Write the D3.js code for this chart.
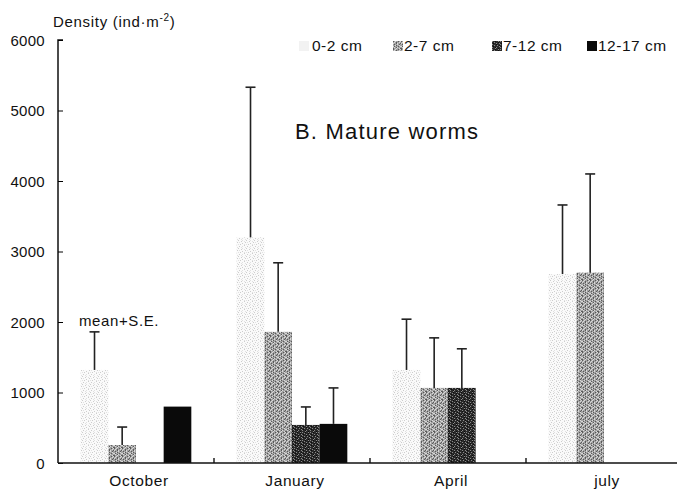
<!DOCTYPE html>
<html>
<head>
<meta charset="utf-8">
<script src="https://cdn.jsdelivr.net/npm/d3@7"></script>
<style>
  body { margin: 0; background: #fff; }
  svg text { font-family: "Liberation Sans", Arial, sans-serif; fill: #111; }
</style>
</head>
<body>
<div class="chart"></div>
<script>
// data
var months = ["October", "January", "April", "july"];
var depths = ["0-2 cm", "2-7 cm", "7-12 cm", "12-17 cm"];
var meanValues = [
  [1320, 255, 0, 800],
  [3200, 1860, 540, 555],
  [1320, 1065, 1065, 0],
  [2680, 2700, 0, 0]
];
var seValues = [
  [540, 255, 0, 0],
  [2130, 980, 255, 510],
  [720, 710, 555, 0],
  [980, 1400, 0, 0]
];
var yTicks = [0, 1000, 2000, 3000, 4000, 5000, 6000];

var svgWidth = 677;
var svgHeight = 489;
var margin = { top: 40, right: -5, bottom: 26, left: 58 };
var width = svgWidth - margin.left - margin.right;
var height = svgHeight - margin.top - margin.bottom;

var svg = d3.select(".chart")
  .append("svg")
  .attr("width", svgWidth)
  .attr("height", svgHeight);

// speckled fills like the printed figure (8x8 tiles, one char per pixel)
var defs = svg.append("defs");
function speckle(id, colors, rows) {
  var p = defs.append("pattern")
    .attr("id", id)
    .attr("patternUnits", "userSpaceOnUse")
    .attr("width", 8).attr("height", 8);
  p.append("rect").attr("width", 8).attr("height", 8).attr("fill", colors["."]);
  rows.forEach(function(row, r) {
    row.split("").forEach(function(ch, c) {
      if (ch !== ".") {
        p.append("rect").attr("x", c).attr("y", r)
          .attr("width", 1).attr("height", 1).attr("fill", colors[ch]);
      }
    });
  });
}
speckle("p0", { ".": "#fafafa", "g": "#cdcdcd", "h": "#e1e1e1" }, [
  "g...h...",
  "...g..h.",
  ".h.....g",
  "....g...",
  "h.g...h.",
  "......g.",
  ".g..h...",
  "...h...h"
]);
speckle("p1", { ".": "#a2a2a2", "d": "#5a5a5a", "l": "#d8d8d8" }, [
  "d.l..d.l",
  ".l.d..l.",
  "l..dl..d",
  ".d..l.d.",
  "..ld..l.",
  "ld...d.l",
  ".l.dl...",
  "d..l..ld"
]);
speckle("p2", { ".": "#2a2a2a", "l": "#8a8a8a", "d": "#0c0c0c" }, [
  "l..d..l.",
  "..l...d.",
  ".d..l..l",
  "l...d...",
  "..l..l.d",
  ".d.....l",
  "l..dl...",
  "...l..d."
]);
var fills = ["url(#p0)", "url(#p1)", "url(#p2)", "#0a0a0a"];

var chartGroup = svg.append("g")
  .attr("transform", `translate(${margin.left}, ${margin.top})`);

var x0 = d3.scaleBand()
  .domain(months)
  .range([0, width])
  .padding(0);

var x1 = d3.scaleBand()
  .domain(depths)
  .range([0, x0.bandwidth()])
  .paddingInner(0)
  .paddingOuter(0.82);

var y = d3.scaleLinear()
  .domain([0, 6000])
  .range([height, 0]);

// bars
var groups = chartGroup.selectAll(".month")
  .data(months)
  .enter()
  .append("g")
  .attr("class", "month")
  .attr("transform", d => `translate(${x0(d)}, 0)`);

var cells = (m, i) => depths.map((dp, j) => ({ depth: dp, j: j, mean: meanValues[i][j], se: seValues[i][j] }));

groups.selectAll("rect")
  .data((m, i) => cells(m, i).filter(d => d.mean > 0))
  .enter()
  .append("rect")
  .attr("x", d => x1(d.depth))
  .attr("y", d => y(d.mean))
  .attr("width", x1.bandwidth())
  .attr("height", d => height - y(d.mean))
  .attr("fill", d => fills[d.j]);

// error bars (mean + S.E.)
var err = groups.selectAll(".err")
  .data((m, i) => cells(m, i).filter(d => d.se > 0))
  .enter()
  .append("g")
  .attr("class", "err")
  .attr("stroke", "#222")
  .attr("stroke-width", 1.6);

err.append("line")
  .attr("x1", d => x1(d.depth) + x1.bandwidth() / 2)
  .attr("x2", d => x1(d.depth) + x1.bandwidth() / 2)
  .attr("y1", d => y(d.mean))
  .attr("y2", d => y(d.mean + d.se));

err.append("line")
  .attr("x1", d => x1(d.depth) + x1.bandwidth() / 2 - 5)
  .attr("x2", d => x1(d.depth) + x1.bandwidth() / 2 + 5)
  .attr("y1", d => y(d.mean + d.se))
  .attr("y2", d => y(d.mean + d.se));

// y axis, ticks pointing inward
var leftAxis = d3.axisRight(y)
  .tickValues(yTicks)
  .tickSize(5)
  .tickFormat("");

chartGroup.append("g")
  .call(leftAxis)
  .call(g => g.select(".domain").attr("stroke", "#111").attr("stroke-width", 1.5).attr("d", `M5,0H0V${height}`));

chartGroup.selectAll(".ylab")
  .data(yTicks)
  .enter()
  .append("text")
  .attr("class", "ylab")
  .attr("x", -13)
  .attr("y", d => y(d) + 5.5)
  .attr("text-anchor", "end")
  .attr("font-size", "15px")
  .attr("letter-spacing", "0.3px")
  .text(d => d);

// x axis with separator ticks between months
chartGroup.append("line")
  .attr("x1", 0).attr("x2", width)
  .attr("y1", height).attr("y2", height)
  .attr("stroke", "#111").attr("stroke-width", 1.6);

chartGroup.selectAll(".sep")
  .data(months.slice(1))
  .enter()
  .append("line")
  .attr("x1", d => x0(d)).attr("x2", d => x0(d))
  .attr("y1", height).attr("y2", height - 5)
  .attr("stroke", "#111").attr("stroke-width", 1.4);

chartGroup.selectAll(".xlab")
  .data(months)
  .enter()
  .append("text")
  .attr("x", d => x0(d) + x0.bandwidth() / 2 + 3)
  .attr("y", height + 23)
  .attr("text-anchor", "middle")
  .attr("font-size", "15.5px")
  .attr("letter-spacing", "0.6px")
  .text(d => d);

// axis title
var yTitle = svg.append("text")
  .attr("x", 53)
  .attr("y", 27)
  .attr("font-size", "15px")
  .attr("letter-spacing", "0.7px");
yTitle.append("tspan").text("Density (ind·m");
yTitle.append("tspan").attr("dy", -6).attr("font-size", "10px").text("-2");
yTitle.append("tspan").attr("dy", 6).text(")");

// legend
var legendX = [299, 393, 492, 587];
var legend = svg.selectAll(".legend")
  .data(depths)
  .enter()
  .append("g")
  .attr("class", "legend")
  .attr("transform", (d, i) => `translate(${legendX[i]}, 41)`);

legend.append("rect")
  .attr("width", 10)
  .attr("height", 10)
  .attr("fill", (d, i) => i === 0 ? "#f2f2f2" : fills[i]);

legend.append("text")
  .attr("x", d => d === "0-2 cm" ? 13 : 11)
  .attr("y", 10)
  .attr("font-size", "15.5px")
  .attr("letter-spacing", "0.5px")
  .text(d => d);

svg.append("text")
  .attr("x", 295)
  .attr("y", 139)
  .attr("font-size", "22px")
  .attr("letter-spacing", "1.2px")
  .text("B. Mature worms");

svg.append("text")
  .attr("x", 79)
  .attr("y", 326)
  .attr("font-size", "15px")
  .attr("letter-spacing", "0.6px")
  .text("mean+S.E.");
</script>
</body>
</html>
